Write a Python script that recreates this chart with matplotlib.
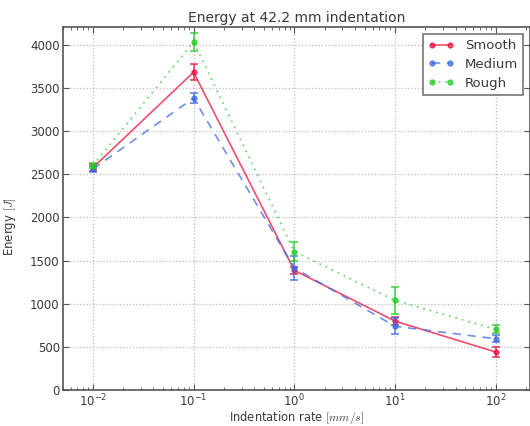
import numpy as np
import matplotlib
matplotlib.use("Agg")
import matplotlib.pyplot as plt
from matplotlib.ticker import FuncFormatter

# indentation rates (mm/s)
rates = [0.01, 0.1, 1, 10, 100]

# mean energy and error per surface
smooth = [2575, 3680, 1387, 800, 442]
smooth_err = [40, 95, 40, 50, 55]
medium = [2560, 3380, 1415, 740, 595]
medium_err = [35, 58, 138, 95, 40]
rough = [2600, 4030, 1605, 1040, 705]
rough_err = [30, 105, 107, 160, 45]

plt.rcParams['mathtext.fontset'] = 'cm'
plt.rcParams['font.family'] = 'DejaVu Sans'
text_col = '#3a3a3a'

fig = plt.figure(figsize=(5.3, 4.26), dpi=100)
ax = fig.add_axes([0.118, 0.084, 0.882, 0.852])

series = [
    ('Smooth', smooth, smooth_err, '#e8143c', '-', None),
    ('Medium', medium, medium_err, '#3f6be0', '--', (0, (5, 4))),
    ('Rough', rough, rough_err, '#22cc22', ':', (0, (1, 3))),
]
for name, vals, errs, col, ls, dash in series:
    ax.errorbar(rates, vals, yerr=errs, color=col, ls='none', alpha=0.8,
                capsize=3, capthick=1.2, elinewidth=1.2)
    line, = ax.plot(rates, vals, color=col, ls=ls, lw=1.2, alpha=0.75,
                    marker='o', ms=3.5, label=name)
    if dash is not None:
        line.set_linestyle(dash)

ax.set_xscale('log')
ax.set_xlim(0.005, 219)
ax.set_ylim(0, 4200)
ax.set_yticks(np.arange(0, 4001, 500))
ax.xaxis.set_major_formatter(FuncFormatter(
    lambda v, p: r'$\mathregular{10^{%d}}$' % round(np.log10(v))))
ax.grid(True, ls=':', color='#bbbbbb', lw=0.9)
ax.tick_params(which='both', direction='in', colors='#555555', labelcolor=text_col,
               labelsize=8.5, top=True, right=True, pad=2)
ax.tick_params(which='major', length=4)
ax.tick_params(which='minor', length=2)
for s in ax.spines.values():
    s.set_color('#555555')
    s.set_linewidth(1.2)

ax.set_title('Energy at 42.2 mm indentation', fontsize=10, color=text_col, pad=4)
ax.set_xlabel(r'Indentation rate $[mm/s]$', fontsize=8.3, color=text_col)
ax.xaxis.set_label_coords(0.5, -0.052)
ax.set_ylabel(r'Energy $[J]$', fontsize=8.5, color=text_col)
ax.yaxis.set_label_coords(-0.095, 0.45)

leg = ax.legend(loc='upper right', fontsize=9.5, borderaxespad=0.5,
                fancybox=False, handlelength=2.0, labelspacing=0.45, numpoints=2)
leg.get_frame().set_edgecolor('#555555')
leg.get_frame().set_linewidth(1.2)
for t in leg.get_texts():
    t.set_color(text_col)

fig.savefig('out.png', dpi=100)
